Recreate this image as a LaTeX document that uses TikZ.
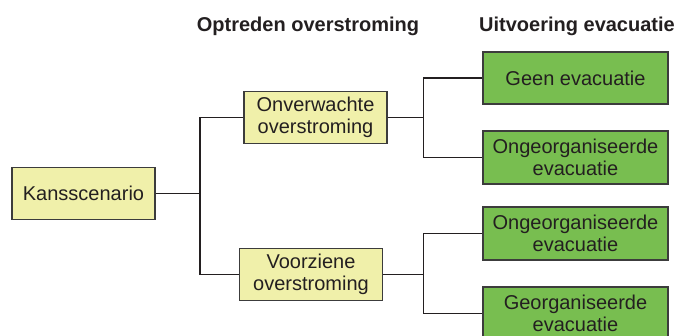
\documentclass[tikz,border=0pt]{standalone}
\usepackage{fontspec}
\setmainfont{Liberation Sans}
\definecolor{boxline}{RGB}{60,60,60}
\definecolor{txt}{RGB}{35,31,32}
\definecolor{yel}{RGB}{240,240,170}
\definecolor{grn}{RGB}{120,190,80}
\begin{document}
\begin{tikzpicture}[x=1pt,y=-1pt,
  every node/.style={font=\fontsize{20}{22.5}\selectfont, text=txt, align=center, inner sep=0pt},
  ybox/.style={draw=boxline, line width=1.2pt, fill=yel, minimum width=143pt, minimum height=52pt},
  gbox/.style={draw=boxline, line width=1.2pt, fill=grn, minimum width=185pt, minimum height=53pt},
  head/.style={font=\bfseries\fontsize{20}{22.5}\selectfont},
  conn/.style={draw=txt, line width=1.4pt}]
\useasboundingbox (0,0) rectangle (679,336);
\node[head] (h1) at (308,26) {Optreden overstroming};
\node[head] (h2) at (577,26) {Uitvoering evacuatie};
\node[ybox] (kans) at (83.5,193.5) {Kansscenario};
\node[ybox] (onv) at (315.5,117.5) {Onverwachte\\overstroming};
\node[ybox] (voor) at (311,274.5) {Voorziene\\overstroming};
\node[gbox,minimum height=52pt] (geen) at (575.5,78) {Geen evacuatie};
\node[gbox] (ong1) at (575.5,157.5) {Ongeorganiseerde\\evacuatie};
\node[gbox] (ong2) at (575.5,233.5) {Ongeorganiseerde\\evacuatie};
\node[gbox] (georg) at (575.5,313.5) {Georganiseerde\\evacuatie};
\coordinate (j1) at (200,193.5);
\coordinate (j2) at (423.5,117.5);
\coordinate (j3) at (423.5,274.5);
\draw[conn] (kans.east) -- (j1);
\draw[conn] (onv.west) -| (j1) |- (voor.west);
\draw[conn] (onv.east) -- (j2);
\draw[conn] (geen.west) -| (j2) |- (ong1.west);
\draw[conn] (voor.east) -- (j3);
\draw[conn] (ong2.west) -| (j3) |- (georg.west);
\end{tikzpicture}
\end{document}
